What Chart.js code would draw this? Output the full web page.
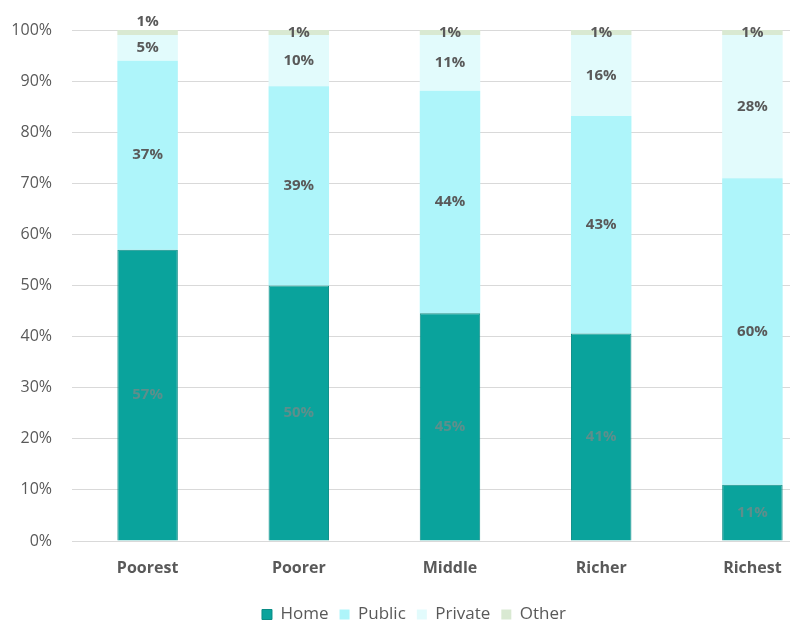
<!DOCTYPE html>
<html>
<head>
<meta charset="utf-8">
<script src="https://cdn.jsdelivr.net/npm/chart.js@4.4.1/dist/chart.umd.min.js"></script>
<style>
  body { margin: 0; background: #fff; overflow: hidden; }
  #wrap { width: 852px; height: 622px; }
</style>
</head>
<body>
<div id="wrap"><canvas id="chart"></canvas></div>
<script>
const categories = ['Poorest', 'Poorer', 'Middle', 'Richer', 'Richest'];
const seriesNames = ['Home', 'Public', 'Private', 'Other'];
const homeValues = [57, 50, 45, 41, 11];
const publicValues = [37, 39, 44, 43, 60];
const privateValues = [5, 10, 11, 16, 28];
const otherValues = [1, 1, 1, 1, 1];
const yTicks = [0, 10, 20, 30, 40, 50, 60, 70, 80, 90, 100];

const seriesValues = [homeValues, publicValues, privateValues, otherValues];
const seriesColors = ['#0aa39c', '#aef5fa', '#e2fbfc', '#d9e9d2'];
const labelColors = ['#5d8f8c', '#595959', '#595959', '#595959'];
const textGray = '#595959';
const fontFamily = '"Open Sans", "Noto Sans", sans-serif';

// 100% stacked: each column is scaled to its own total
const totals = categories.map((c, i) => seriesValues.reduce((s, arr) => s + arr[i], 0));
const shareOf = (arr) => arr.map((v, i) => v / totals[i] * 100);

const datasets = seriesNames.map((name, k) => ({
    label: name,
    data: shareOf(seriesValues[k]),
    backgroundColor: seriesColors[k],
    borderColor: k === 0 ? '#0b8c86' : seriesColors[k],
    borderWidth: k === 0 ? 1 : 0,
    barPercentage: 0.4,
    categoryPercentage: 1
}));

// writes the rounded percentages in the middle of each segment
const segmentLabels = {
    id: 'segmentLabels',
    afterDatasetsDraw(chart) {
        const ctx = chart.ctx;
        ctx.save();
        ctx.font = 'bold 15px ' + fontFamily;
        ctx.textAlign = 'center';
        ctx.textBaseline = 'middle';
        categories.forEach((c, i) => {
            let prevY = null;
            chart.data.datasets.forEach((ds, k) => {
                const bar = chart.getDatasetMeta(k).data[i];
                const { x, y, base } = bar.getProps(['x', 'y', 'base'], true);
                let ly = (y + base) / 2;
                // tiny top segment crowding the one below: lift it above the bar
                if (prevY !== null && prevY - ly < 20) ly = y - 8;
                ctx.fillStyle = labelColors[k];
                ctx.fillText(seriesValues[k][i] + '%', x, ly);
                prevY = ly;
            });
        });
        ctx.restore();
    }
};

new Chart(document.getElementById('chart'), {
    type: 'bar',
    data: { labels: categories, datasets: datasets },
    options: {
        responsive: true,
        maintainAspectRatio: false,
        animation: false,
        layout: { padding: { top: 30, right: 24, bottom: -11, left: 0 } },
        scales: {
            x: {
                stacked: true,
                grid: { display: false, drawTicks: false },
                border: { display: true, color: '#d9d9d9', width: 1 },
                ticks: { color: textGray, font: { family: fontFamily, size: 16, weight: 'bold', lineHeight: 1 }, padding: 19 }
            },
            y: {
                stacked: true,
                min: 0,
                max: 100,
                afterFit(scale) { scale.width = 72; },
                afterBuildTicks(scale) { scale.ticks = yTicks.map(v => ({ value: v })); },
                grid: { color: '#d9d9d9', lineWidth: 1, drawTicks: false },
                border: { display: false },
                ticks: {
                    color: textGray,
                    font: { family: fontFamily, size: 16 },
                    padding: 20,
                    callback: v => v + '%'
                }
            }
        },
        plugins: {
            tooltip: { enabled: false },
            legend: {
                position: 'bottom',
                labels: {
                    color: textGray,
                    font: { family: fontFamily, size: 17 },
                    boxWidth: 10,
                    boxHeight: 10,
                    padding: 11
                }
            }
        }
    },
    plugins: [segmentLabels]
});
</script>
</body>
</html>
